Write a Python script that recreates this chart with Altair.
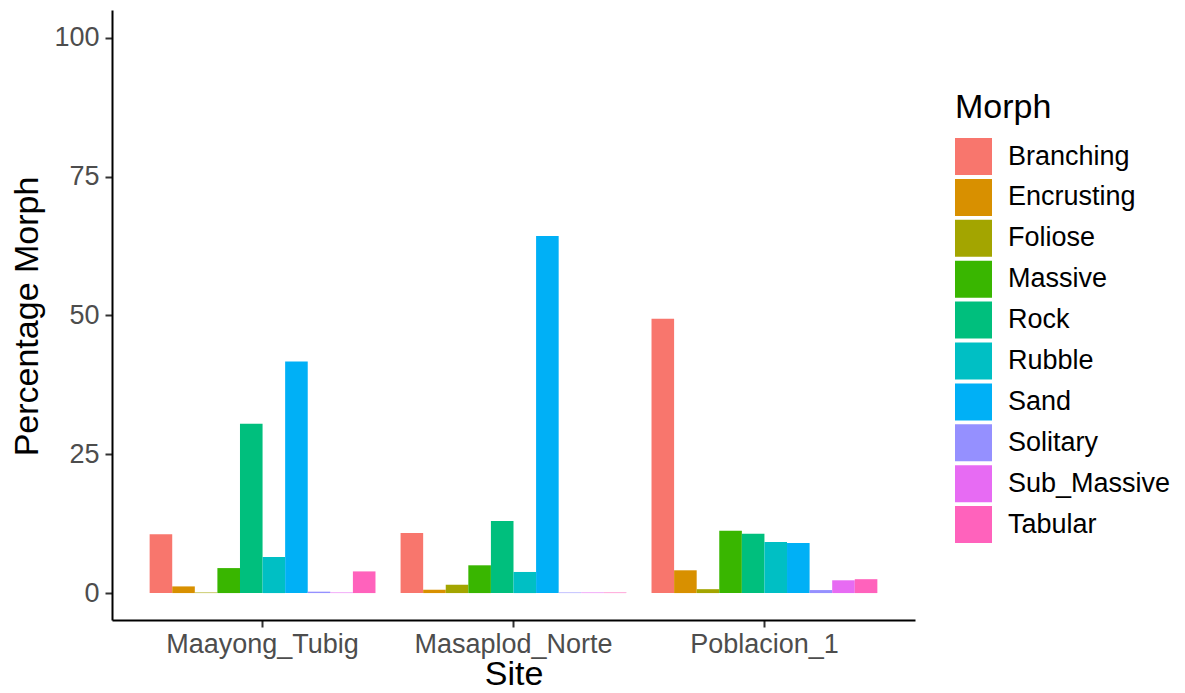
import altair as alt
import pandas as pd

sites = ["Maayong_Tubig", "Masaplod_Norte", "Poblacion_1"]
morphs = ["Branching", "Encrusting", "Foliose", "Massive", "Rock",
          "Rubble", "Sand", "Solitary", "Sub_Massive", "Tabular"]
colors = ["#F8766D", "#D89000", "#A3A500", "#39B600", "#00BF7D",
          "#00BFC4", "#00B0F6", "#9590FF", "#E76BF3", "#FF62BC"]

maayong = [10.6, 1.2, 0.1, 4.5, 30.5, 6.5, 41.7, 0.25, 0.1, 3.9]
masaplod = [10.8, 0.6, 1.5, 5.0, 13.0, 3.8, 64.3, 0.1, 0.1, 0.1]
poblacion = [49.4, 4.1, 0.7, 11.2, 10.7, 9.2, 9.0, 0.54, 2.3, 2.5]
y_ticks = [0, 25, 50, 75, 100]

rows = []
for s, vals in zip(sites, [maayong, masaplod, poblacion]):
    for m, v in zip(morphs, vals):
        rows.append({"Site": s, "Morph": m, "Percentage": v})
df = pd.DataFrame(rows)

FONT = "Liberation Sans"

chart = alt.Chart(df).mark_bar().encode(
    x=alt.X("Site:N", sort=sites,
            scale=alt.Scale(paddingInner=0.1, paddingOuter=0.15),
            axis=alt.Axis(title="Site", labelAngle=0, labelFont=FONT, labelFontSize=27,
                          labelColor="#4D4D4D", tickSize=7, labelPadding=4, labelLimit=0,
                          titleFont=FONT, titleFontSize=34, titleFontWeight="normal",
                          titleColor="black", titleBaseline="alphabetic", titleY=64,
                          domainColor="black", domainWidth=2, tickColor="#333333",
                          tickWidth=2)),
    xOffset=alt.XOffset("Morph:N", sort=morphs,
                        scale=alt.Scale(paddingInner=0, paddingOuter=0)),
    y=alt.Y("Percentage:Q",
            scale=alt.Scale(domain=[-4.85, 105], nice=False, zero=False),
            axis=alt.Axis(values=y_ticks, title="Percentage Morph", grid=False,
                          labelFont=FONT, labelFontSize=27, labelColor="#4D4D4D",
                          tickSize=7, labelPadding=6,
                          titleFont=FONT, titleFontSize=34, titleFontWeight="normal",
                          titleColor="black", titleAngle=270, titleX=-75, titleY=306,
                          titleAlign="center", titleBaseline="alphabetic",
                          domainColor="black", domainWidth=2, tickColor="#333333",
                          tickWidth=2)),
    y2=alt.datum(0),
    color=alt.Color("Morph:N", sort=morphs,
                    scale=alt.Scale(domain=morphs, range=colors),
                    legend=alt.Legend(orient="none", legendX=843, legendY=81,
                                      title="Morph", titleFont=FONT, titleFontSize=34,
                                      titleFontWeight="normal", titleColor="black",
                                      labelFont=FONT, labelFontSize=27, labelColor="black",
                                      labelLimit=0,
                                      symbolType="square", symbolSize=1369,
                                      symbolStrokeWidth=0, symbolOpacity=1,
                                      rowPadding=3.9, labelOffset=16, titlePadding=13,
                                      padding=0)),
).properties(
    width=803, height=610,
    autosize=alt.AutoSizeParams(type="none"),
    padding={"left": 104, "top": 2, "right": 262, "bottom": 65},
).configure_view(strokeWidth=0)

chart.save("out.html", embed_options={"renderer": "svg", "actions": False})
